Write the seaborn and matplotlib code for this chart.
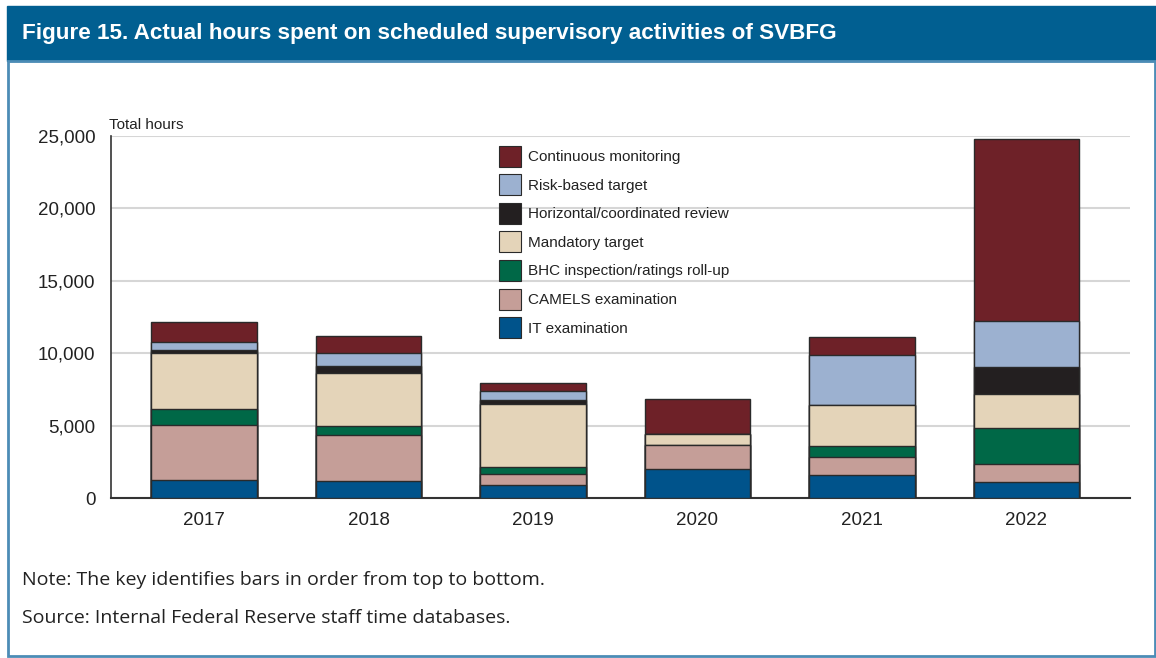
import pandas as pd
import matplotlib.pyplot as plt
import seaborn as sns
from matplotlib.patches import Patch, Rectangle
from matplotlib.ticker import FuncFormatter

# Data (hours)
years = ['2017', '2018', '2019', '2020', '2021', '2022']
it_exam = [1260, 1190, 940, 2020, 1590, 1110]
camels = [3770, 3200, 740, 1680, 1270, 1260]
bhc = [1130, 570, 500, 0, 780, 2480]
mandatory = [3880, 3660, 4340, 710, 2790, 2320]
horizontal = [210, 500, 240, 0, 0, 1890]
risk_based = [550, 880, 640, 0, 3470, 3190]
continuous = [1380, 1170, 530, 2460, 1200, 12510]

series_names = ['IT examination', 'CAMELS examination', 'BHC inspection/ratings roll-up',
                'Mandatory target', 'Horizontal/coordinated review', 'Risk-based target',
                'Continuous monitoring']
series_colors = ['#00538B', '#C59E98', '#006847', '#E4D4B9', '#231F20', '#9CB1D0', '#6E2128']

df = pd.DataFrame({'Year': years})
for name, vals in zip(series_names, [it_exam, camels, bhc, mandatory, horizontal,
                                     risk_based, continuous]):
    df[name] = vals

# cumulative totals, bottom to top
cum = df[series_names].cumsum(axis=1)
cum['Year'] = years

sns.set_theme(style="white")
plt.rcParams['font.family'] = ['Liberation Sans', 'DejaVu Sans']

fig = plt.figure(figsize=(11.56, 6.58), dpi=100)
ax = fig.add_axes([0.0958, 0.2427, 0.9775 - 0.0958, 0.7933 - 0.2427])

# draw tallest (top) first, then overlay lower stacks
for name, color in reversed(list(zip(series_names, series_colors))):
    sns.barplot(data=cum, x='Year', y=name, order=years, color=color, saturation=1,
                width=0.64, edgecolor='#2a2a2a', linewidth=1.0, ax=ax, zorder=3)

ax.set_xlim(-0.567, 5.63)
ax.set_ylim(0, 25000)
ax.set_yticks([0, 5000, 10000, 15000, 20000, 25000])
ax.yaxis.set_major_formatter(FuncFormatter(lambda v, p: f'{int(v):,}'))
ax.grid(axis='y', color='#d6d6d6', linewidth=1.5, zorder=0)
ax.grid(axis='x', visible=False)
ax.set_axisbelow(True)
ax.set_xlabel('')
ax.set_ylabel('')
for s in ['top', 'right']:
    ax.spines[s].set_visible(False)
ax.spines['left'].set_color('#333333')
ax.spines['bottom'].set_color('#333333')
ax.spines['left'].set_linewidth(1.2)
ax.spines['bottom'].set_linewidth(1.5)
ax.tick_params(axis='both', length=0, labelsize=13.5, colors='#222222')
ax.tick_params(axis='y', pad=11)
ax.tick_params(axis='x', pad=10)

ax.text(-0.002, 1.012, 'Total hours', transform=ax.transAxes, fontsize=11,
        color='#222222', ha='left', va='bottom')

# legend, top to bottom
handles = [Patch(facecolor=c, edgecolor='#2a2a2a', linewidth=0.8, label=n)
           for n, c in reversed(list(zip(series_names, series_colors)))]
leg = fig.legend(handles=handles, loc='upper left', bbox_to_anchor=(0.4196, 0.7997),
                 frameon=False, handlelength=1.44, handleheight=1.735, handletextpad=0.46,
                 labelspacing=0.5, prop={'size': 11})
for t in leg.get_texts():
    t.set_color('#222222')

# header band and frame
fig.patches.append(Rectangle((7 / 1156, 1 - 61 / 658), 1 - 7 / 1156, 55 / 658,
                             transform=fig.transFigure, color='#015F91', zorder=0))
fig.patches.append(Rectangle((8 / 1156, 2 / 658), 1147 / 1156, (1 - 61 / 658) - 2 / 658,
                             transform=fig.transFigure, fill=False, edgecolor='#4C8CB6',
                             linewidth=2, zorder=0))
fig.text(22 / 1156, 1 - 33 / 658,
         'Figure 15. Actual hours spent on scheduled supervisory activities of SVBFG',
         color='white', fontsize=16.2, fontweight='bold', va='center', ha='left')

fig.text(22 / 1156, 1 - 580 / 658, 'Note: The key identifies bars in order from top to bottom.',
         fontsize=14, family=['Open Sans', 'DejaVu Sans'], color='#222222',
         va='center', ha='left')
fig.text(22 / 1156, 1 - 618 / 658, 'Source: Internal Federal Reserve staff time databases.',
         fontsize=14, family=['Open Sans', 'DejaVu Sans'], color='#222222',
         va='center', ha='left')

fig.savefig('out.png', dpi=100)
